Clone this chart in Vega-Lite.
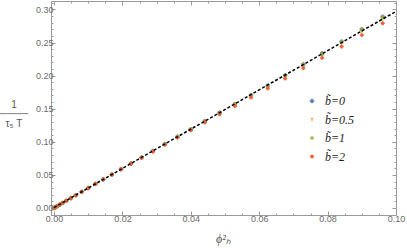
{
  "$schema": "https://vega.github.io/schema/vega-lite/v6.json",
  "width": 345,
  "height": 214,
  "autosize": {"type": "none"},
  "padding": {"left": 51, "top": 1, "right": 11, "bottom": 33},
  "background": "white",
  "config": {
    "view": {"stroke": "#9a9a9a", "strokeWidth": 1},
    "axis": {"domain": false, "grid": false, "tickColor": "#9a9a9a", "labelColor": "#6b6b6b", "labelFont": "Liberation Sans", "labelFontSize": 9, "labelOverlap": false, "labelFlush": false, "labelBound": false}
  },
  "datasets": {
    "pts": [
      {"x": 0, "b0": 0, "b05": 0, "b1": 0, "b2": 0},
      {"x": 0.0001, "b0": 0.0003, "b05": 0.0003, "b1": 0.0003, "b2": 0.0003},
      {"x": 0.0004, "b0": 0.0012, "b05": 0.0012, "b1": 0.0012, "b2": 0.0012},
      {"x": 0.0009, "b0": 0.0027, "b05": 0.0027, "b1": 0.0027, "b2": 0.0027},
      {"x": 0.0016, "b0": 0.0049, "b05": 0.0049, "b1": 0.0049, "b2": 0.0049},
      {"x": 0.0025, "b0": 0.0076, "b05": 0.0076, "b1": 0.0076, "b2": 0.0076},
      {"x": 0.0036, "b0": 0.0109, "b05": 0.0109, "b1": 0.0109, "b2": 0.0109},
      {"x": 0.0049, "b0": 0.0148, "b05": 0.0148, "b1": 0.0148, "b2": 0.0148},
      {"x": 0.0064, "b0": 0.0193, "b05": 0.0193, "b1": 0.0193, "b2": 0.0193},
      {"x": 0.0081, "b0": 0.0244, "b05": 0.0244, "b1": 0.0244, "b2": 0.0244},
      {"x": 0.01, "b0": 0.0301, "b05": 0.0301, "b1": 0.0301, "b2": 0.0301},
      {"x": 0.0121, "b0": 0.0364, "b05": 0.0364, "b1": 0.0364, "b2": 0.0363},
      {"x": 0.0144, "b0": 0.0432, "b05": 0.0432, "b1": 0.0432, "b2": 0.043},
      {"x": 0.0169, "b0": 0.0506, "b05": 0.0506, "b1": 0.0505, "b2": 0.0503},
      {"x": 0.0196, "b0": 0.0587, "b05": 0.0587, "b1": 0.0586, "b2": 0.0583},
      {"x": 0.0225, "b0": 0.0673, "b05": 0.0673, "b1": 0.0672, "b2": 0.0668},
      {"x": 0.0256, "b0": 0.0764, "b05": 0.0764, "b1": 0.0762, "b2": 0.0757},
      {"x": 0.0289, "b0": 0.0861, "b05": 0.0861, "b1": 0.0859, "b2": 0.0852},
      {"x": 0.0324, "b0": 0.0966, "b05": 0.0965, "b1": 0.0963, "b2": 0.0955},
      {"x": 0.0361, "b0": 0.1076, "b05": 0.1075, "b1": 0.1073, "b2": 0.1062},
      {"x": 0.04, "b0": 0.119, "b05": 0.1189, "b1": 0.1186, "b2": 0.1173},
      {"x": 0.0441, "b0": 0.1313, "b05": 0.1312, "b1": 0.1308, "b2": 0.1292},
      {"x": 0.0484, "b0": 0.144, "b05": 0.1439, "b1": 0.1434, "b2": 0.1415},
      {"x": 0.0529, "b0": 0.157, "b05": 0.1568, "b1": 0.1563, "b2": 0.154},
      {"x": 0.0576, "b0": 0.1705, "b05": 0.1703, "b1": 0.1696, "b2": 0.1669},
      {"x": 0.0625, "b0": 0.1848, "b05": 0.1845, "b1": 0.1838, "b2": 0.1806},
      {"x": 0.0676, "b0": 0.2005, "b05": 0.2002, "b1": 0.1993, "b2": 0.1956},
      {"x": 0.0729, "b0": 0.217, "b05": 0.2167, "b1": 0.2156, "b2": 0.2113},
      {"x": 0.0784, "b0": 0.2335, "b05": 0.2331, "b1": 0.2319, "b2": 0.2269},
      {"x": 0.0841, "b0": 0.2515, "b05": 0.251, "b1": 0.2496, "b2": 0.2439},
      {"x": 0.09, "b0": 0.27, "b05": 0.2695, "b1": 0.2678, "b2": 0.2613},
      {"x": 0.0961, "b0": 0.289, "b05": 0.2884, "b1": 0.2865, "b2": 0.279}
    ],
    "fit": [
      {"x": 0, "y": 0.0005},
      {"x": 0.1, "y": 0.297}
    ]
  },
  "layer": [
    {
      "data": {"name": "pts"},
      "transform": [{"fold": ["b0", "b05", "b1", "b2"], "as": ["b", "y"]}],
      "mark": {"type": "point", "filled": true, "size": 18, "strokeWidth": 0.8, "opacity": 1},
      "encoding": {
        "x": {
          "field": "x", "type": "quantitative",
          "scale": {"domain": [-0.00088, 0.1], "nice": false, "zero": false},
          "axis": {
            "orient": "bottom",
            "values": [0, 0.005, 0.01, 0.015, 0.02, 0.025, 0.03, 0.035, 0.04, 0.045, 0.05, 0.055, 0.06, 0.065, 0.07, 0.075, 0.08, 0.085, 0.09, 0.095, 0.1],
            "labelExpr": "abs(datum.value*50 - round(datum.value*50)) < 1e-6 ? format(datum.value, '.2f') : ''",
            "tickSize": {"condition": {"test": "abs(datum.value*50 - round(datum.value*50)) < 1e-6", "value": -4}, "value": -2},
            "labelPadding": 3,
            "title": "ϕ²ₕ",
            "titleFont": "Liberation Serif", "titleFontStyle": "italic", "titleFontWeight": "normal", "titleFontSize": 12, "titleColor": "#555",
            "titleX": 172, "titleY": 23, "titleBaseline": "middle", "titleAlign": "center"
          }
        },
        "y": {
          "field": "y", "type": "quantitative",
          "scale": {"domain": [-0.0106, 0.3127], "nice": false, "zero": false},
          "axis": {
            "orient": "left",
            "values": [-0.01, 0, 0.01, 0.02, 0.03, 0.04, 0.05, 0.06, 0.07, 0.08, 0.09, 0.1, 0.11, 0.12, 0.13, 0.14, 0.15, 0.16, 0.17, 0.18, 0.19, 0.2, 0.21, 0.22, 0.23, 0.24, 0.25, 0.26, 0.27, 0.28, 0.29, 0.3, 0.31],
            "labelExpr": "abs(datum.value*20 - round(datum.value*20)) < 1e-6 ? format(datum.value, '.2f') : ''",
            "tickSize": {"condition": {"test": "abs(datum.value*20 - round(datum.value*20)) < 1e-6", "value": -4}, "value": -2},
            "labelPadding": 2,
            "title": ["1", "────", "τ₅ T"],
            "titleFont": "Liberation Sans", "titleFontWeight": "normal", "titleFontSize": 10, "titleColor": "#555",
            "titleAngle": 0, "titleX": -37.5, "titleY": 103, "titleAlign": "center", "titleBaseline": "middle", "titleLineHeight": 9.5
          }
        },
        "color": {
          "field": "b", "type": "nominal",
          "scale": {"domain": ["b0", "b05", "b1", "b2"], "range": ["#5E81B5", "#E19C24", "#8FB032", "#EB6235"]},
          "legend": {
            "title": null, "orient": "none", "legendX": 255, "legendY": 94, "padding": 0,
            "rowPadding": 6.5, "symbolSize": 18, "labelOffset": 7,
            "labelFont": "Liberation Serif", "labelFontSize": 12, "labelFontStyle": "italic", "labelColor": "#222",
            "labelExpr": "datum.label == 'b0' ? 'b\u0303=0' : datum.label == 'b05' ? 'b\u0303=0.5' : datum.label == 'b1' ? 'b\u0303=1' : 'b\u0303=2'",
            "symbolStrokeWidth": 0.8,
            "encode": {"symbols": {"update": {"stroke": {"scale": "color", "field": "value"}}}}
          }
        },
        "shape": {
          "field": "b", "type": "nominal",
          "scale": {"domain": ["b0", "b05", "b1", "b2"], "range": ["M-0.85,0A0.85,0.85,0,1,0,0.85,0A0.85,0.85,0,1,0,-0.85,0Z", "M0,-1L0,1M-0.6,-0.4L0.6,-0.4", "M-1,0L1,0M0,-1L0,1M-0.7,-0.7L0.7,0.7M-0.7,0.7L0.7,-0.7", "M-0.3,-0.75L0.3,-0.75L0.3,-0.3L0.75,-0.3L0.75,0.3L0.3,0.3L0.3,0.75L-0.3,0.75L-0.3,0.3L-0.75,0.3L-0.75,-0.3L-0.3,-0.3Z"]}
        },
        "stroke": {
          "field": "b", "type": "nominal",
          "scale": {"domain": ["b0", "b05", "b1", "b2"], "range": ["#5E81B5", "#E19C24", "#8FB032", "#EB6235"]},
          "legend": null
        }
      }
    },
    {
      "data": {"name": "fit"},
      "mark": {"type": "line", "color": "black", "strokeWidth": 1.5, "strokeDash": [3, 2]},
      "encoding": {
        "x": {
          "field": "x", "type": "quantitative",
          "axis": {
            "orient": "top", "labels": false, "title": null,
            "values": [0, 0.005, 0.01, 0.015, 0.02, 0.025, 0.03, 0.035, 0.04, 0.045, 0.05, 0.055, 0.06, 0.065, 0.07, 0.075, 0.08, 0.085, 0.09, 0.095, 0.1],
            "tickSize": {"condition": {"test": "abs(datum.value*50 - round(datum.value*50)) < 1e-6", "value": -4}, "value": -2}
          }
        },
        "y": {
          "field": "y", "type": "quantitative",
          "axis": {
            "orient": "right", "labels": false, "title": null,
            "values": [-0.01, 0, 0.01, 0.02, 0.03, 0.04, 0.05, 0.06, 0.07, 0.08, 0.09, 0.1, 0.11, 0.12, 0.13, 0.14, 0.15, 0.16, 0.17, 0.18, 0.19, 0.2, 0.21, 0.22, 0.23, 0.24, 0.25, 0.26, 0.27, 0.28, 0.29, 0.3, 0.31],
            "tickSize": {"condition": {"test": "abs(datum.value*20 - round(datum.value*20)) < 1e-6", "value": -4}, "value": -2}
          }
        }
      }
    }
  ],
  "resolve": {"axis": {"x": "independent", "y": "independent"}}
}
